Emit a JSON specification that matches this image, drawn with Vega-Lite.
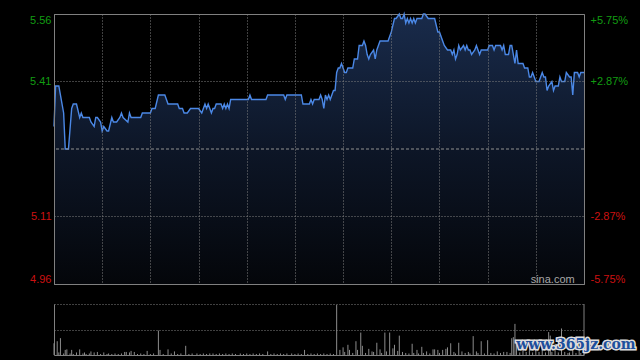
{
  "$schema": "https://vega.github.io/schema/vega-lite/v6.json",
  "background": "#000000",
  "padding": {"left": 29, "top": 10, "right": 8, "bottom": 5},
  "config": {
    "font": "Liberation Sans",
    "axis": {"labelFont": "Liberation Sans", "labelFontSize": 11},
    "view": {"stroke": null}
  },
  "datasets": {
    "price": [
      {"t":0,"p":5.31},{"t":1,"p":5.40},{"t":3,"p":5.40},{"t":6,"p":5.34},{"t":7,"p":5.26},{"t":9,"p":5.26},
      {"t":11,"p":5.35},{"t":12,"p":5.36},{"t":14,"p":5.36},{"t":16,"p":5.33},{"t":17,"p":5.34},{"t":18,"p":5.33},
      {"t":22,"p":5.33},{"t":23,"p":5.32},{"t":25,"p":5.31},{"t":26,"p":5.33},{"t":27,"p":5.33},{"t":29,"p":5.32},
      {"t":30,"p":5.30},{"t":31,"p":5.31},{"t":33,"p":5.30},{"t":34,"p":5.30},{"t":36,"p":5.33},{"t":37,"p":5.32},
      {"t":39,"p":5.32},{"t":41,"p":5.33},{"t":42,"p":5.34},{"t":43,"p":5.33},{"t":46,"p":5.32},{"t":47,"p":5.34},
      {"t":48,"p":5.33},{"t":54,"p":5.33},{"t":55,"p":5.34},{"t":60,"p":5.34},{"t":61,"p":5.35},{"t":63,"p":5.35},
      {"t":65,"p":5.38},{"t":69,"p":5.38},{"t":71,"p":5.36},{"t":77,"p":5.36},{"t":78,"p":5.35},{"t":80,"p":5.35},
      {"t":81,"p":5.34},{"t":83,"p":5.34},{"t":85,"p":5.35},{"t":90,"p":5.35},{"t":92,"p":5.34},{"t":94,"p":5.36},
      {"t":95,"p":5.35},{"t":96,"p":5.36},{"t":97,"p":5.35},{"t":98,"p":5.34},{"t":99,"p":5.35},{"t":100,"p":5.35},
      {"t":101,"p":5.36},{"t":104,"p":5.36},{"t":105,"p":5.35},{"t":106,"p":5.36},{"t":107,"p":5.35},{"t":108,"p":5.36},
      {"t":109,"p":5.35},{"t":110,"p":5.37},{"t":121,"p":5.37},{"t":122,"p":5.38},{"t":123,"p":5.37},{"t":132,"p":5.37},
      {"t":133,"p":5.38},{"t":143,"p":5.38},{"t":144,"p":5.37},{"t":145,"p":5.38},{"t":154,"p":5.38},{"t":155,"p":5.36},
      {"t":159,"p":5.36},{"t":160,"p":5.37},{"t":161,"p":5.36},{"t":162,"p":5.37},{"t":165,"p":5.37},{"t":166,"p":5.38},
      {"t":167,"p":5.37},{"t":168,"p":5.35},{"t":169,"p":5.38},{"t":170,"p":5.37},{"t":171,"p":5.38},{"t":172,"p":5.37},
      {"t":173,"p":5.38},{"t":174,"p":5.39},{"t":175,"p":5.39},{"t":176,"p":5.43},{"t":177,"p":5.44},{"t":178,"p":5.44},
      {"t":179,"p":5.45},{"t":180,"p":5.44},{"t":181,"p":5.43},{"t":182,"p":5.43},{"t":183,"p":5.44},{"t":186,"p":5.44},
      {"t":187,"p":5.46},{"t":189,"p":5.46},{"t":190,"p":5.49},{"t":192,"p":5.49},{"t":193,"p":5.50},{"t":194,"p":5.49},
      {"t":195,"p":5.47},{"t":196,"p":5.46},{"t":197,"p":5.47},{"t":199,"p":5.48},{"t":200,"p":5.46},{"t":201,"p":5.48},
      {"t":203,"p":5.50},{"t":208,"p":5.50},{"t":209,"p":5.51},{"t":210,"p":5.52},{"t":212,"p":5.55},{"t":213,"p":5.55},
      {"t":215,"p":5.56},{"t":216,"p":5.55},{"t":217,"p":5.55},{"t":218,"p":5.56},{"t":219,"p":5.54},{"t":220,"p":5.55},
      {"t":221,"p":5.54},{"t":222,"p":5.55},{"t":223,"p":5.54},{"t":224,"p":5.55},{"t":225,"p":5.54},{"t":226,"p":5.55},
      {"t":229,"p":5.55},{"t":230,"p":5.56},{"t":231,"p":5.56},{"t":233,"p":5.55},{"t":237,"p":5.55},{"t":239,"p":5.52},
      {"t":240,"p":5.52},{"t":242,"p":5.50},{"t":243,"p":5.49},{"t":245,"p":5.48},{"t":247,"p":5.48},{"t":248,"p":5.47},
      {"t":249,"p":5.48},{"t":250,"p":5.46},{"t":251,"p":5.47},{"t":252,"p":5.49},{"t":253,"p":5.48},{"t":255,"p":5.49},
      {"t":256,"p":5.48},{"t":257,"p":5.49},{"t":258,"p":5.48},{"t":259,"p":5.48},{"t":260,"p":5.47},{"t":262,"p":5.48},
      {"t":263,"p":5.49},{"t":264,"p":5.48},{"t":265,"p":5.47},{"t":266,"p":5.48},{"t":270,"p":5.48},{"t":271,"p":5.49},
      {"t":273,"p":5.49},{"t":274,"p":5.48},{"t":275,"p":5.49},{"t":278,"p":5.49},{"t":279,"p":5.48},{"t":280,"p":5.49},
      {"t":281,"p":5.47},{"t":283,"p":5.47},{"t":284,"p":5.49},{"t":285,"p":5.49},{"t":287,"p":5.45},{"t":288,"p":5.48},
      {"t":289,"p":5.45},{"t":292,"p":5.45},{"t":293,"p":5.44},{"t":295,"p":5.44},{"t":296,"p":5.42},{"t":297,"p":5.42},
      {"t":298,"p":5.43},{"t":299,"p":5.42},{"t":300,"p":5.41},{"t":302,"p":5.41},{"t":303,"p":5.42},{"t":304,"p":5.43},
      {"t":305,"p":5.42},{"t":306,"p":5.42},{"t":307,"p":5.39},{"t":308,"p":5.40},{"t":310,"p":5.41},{"t":311,"p":5.39},
      {"t":312,"p":5.40},{"t":314,"p":5.40},{"t":315,"p":5.42},{"t":316,"p":5.41},{"t":318,"p":5.41},{"t":319,"p":5.43},
      {"t":321,"p":5.42},{"t":322,"p":5.42},{"t":323,"p":5.38},{"t":324,"p":5.43},{"t":326,"p":5.43},{"t":327,"p":5.42},
      {"t":328,"p":5.43},{"t":330,"p":5.43}
    ],
    "vol": [
      {"t":0,"v":23},{"t":2,"v":27},{"t":3,"v":5},{"t":4,"v":33},{"t":6,"v":3},{"t":7,"v":10},{"t":8,"v":11},{"t":10,"v":3},
      {"t":11,"v":10},{"t":12,"v":2},{"t":14,"v":5},{"t":16,"v":11},{"t":18,"v":3},{"t":19,"v":5},{"t":20,"v":2},{"t":22,"v":3},
      {"t":23,"v":7},{"t":25,"v":5},{"t":27,"v":6},{"t":29,"v":2},{"t":31,"v":5},{"t":33,"v":2},{"t":34,"v":3},{"t":36,"v":2},
      {"t":38,"v":3},{"t":40,"v":2},{"t":42,"v":3},{"t":44,"v":6},{"t":45,"v":6},{"t":47,"v":5},{"t":48,"v":8},{"t":50,"v":6},
      {"t":52,"v":2},{"t":54,"v":3},{"t":56,"v":2},{"t":58,"v":8},{"t":60,"v":2},{"t":62,"v":3},{"t":65,"v":48},{"t":66,"v":10},
      {"t":68,"v":2},{"t":71,"v":11},{"t":73,"v":3},{"t":75,"v":7},{"t":77,"v":2},{"t":79,"v":3},{"t":82,"v":18},{"t":84,"v":2},
      {"t":86,"v":3},{"t":89,"v":3},{"t":91,"v":2},{"t":93,"v":3},{"t":95,"v":2},{"t":97,"v":3},{"t":99,"v":3},{"t":101,"v":2},
      {"t":103,"v":3},{"t":105,"v":2},{"t":107,"v":3},{"t":109,"v":2},{"t":111,"v":3},{"t":113,"v":2},{"t":116,"v":3},{"t":118,"v":2},
      {"t":120,"v":3},{"t":122,"v":2},{"t":124,"v":3},{"t":126,"v":2},{"t":128,"v":3},{"t":130,"v":2},{"t":133,"v":7},{"t":135,"v":2},
      {"t":137,"v":3},{"t":139,"v":2},{"t":141,"v":3},{"t":143,"v":2},{"t":145,"v":3},{"t":148,"v":3},{"t":150,"v":2},{"t":152,"v":3},
      {"t":154,"v":2},{"t":156,"v":10},{"t":158,"v":2},{"t":160,"v":3},{"t":162,"v":2},{"t":164,"v":3},{"t":166,"v":2},{"t":168,"v":3},
      {"t":170,"v":2},{"t":172,"v":3},{"t":174,"v":2},{"t":176,"v":98},{"t":178,"v":10},{"t":180,"v":15},{"t":181,"v":6},{"t":183,"v":20},
      {"t":184,"v":10},{"t":186,"v":4},{"t":188,"v":27},{"t":189,"v":10},{"t":191,"v":44},{"t":192,"v":18},{"t":194,"v":4},{"t":196,"v":12},
      {"t":198,"v":7},{"t":199,"v":6},{"t":201,"v":24},{"t":203,"v":11},{"t":204,"v":4},{"t":206,"v":44},{"t":207,"v":7},{"t":209,"v":44},
      {"t":211,"v":13},{"t":212,"v":20},{"t":214,"v":8},{"t":215,"v":38},{"t":217,"v":6},{"t":219,"v":4},{"t":221,"v":3},{"t":223,"v":22},
      {"t":224,"v":4},{"t":226,"v":10},{"t":227,"v":3},{"t":229,"v":16},{"t":230,"v":4},{"t":232,"v":7},{"t":234,"v":3},{"t":236,"v":11},
      {"t":237,"v":11},{"t":239,"v":10},{"t":240,"v":4},{"t":242,"v":10},{"t":244,"v":12},{"t":245,"v":15},{"t":247,"v":23},{"t":249,"v":6},
      {"t":250,"v":3},{"t":252,"v":24},{"t":254,"v":7},{"t":256,"v":4},{"t":258,"v":6},{"t":259,"v":3},{"t":261,"v":37},{"t":263,"v":7},
      {"t":264,"v":4},{"t":266,"v":27},{"t":268,"v":3},{"t":270,"v":29},{"t":272,"v":4},{"t":274,"v":3},{"t":276,"v":7},{"t":278,"v":4},
      {"t":280,"v":6},{"t":282,"v":6},{"t":284,"v":4},{"t":285,"v":33},{"t":286,"v":35},{"t":287,"v":61},{"t":288,"v":29},{"t":290,"v":5},
      {"t":292,"v":15},{"t":294,"v":6},{"t":296,"v":20},{"t":298,"v":5},{"t":300,"v":12},{"t":302,"v":6},{"t":304,"v":18},{"t":306,"v":5},
      {"t":308,"v":45},{"t":309,"v":38},{"t":310,"v":6},{"t":312,"v":22},{"t":314,"v":5},{"t":316,"v":52},{"t":318,"v":6},{"t":320,"v":4},
      {"t":321,"v":5},{"t":323,"v":15},{"t":325,"v":4},{"t":327,"v":12},{"t":328,"v":4},{"t":330,"v":3}
    ]
  },
  "spacing": 20,
  "bounds": "flush",
  "vconcat": [
    {
      "width": 530,
      "height": 270,
      "view": {"stroke": "#808080"},
      "layer": [
        {
          "data": {"name": "price"},
          "layer": [
            {
              "mark": {
                "type": "area",
                "interpolate": "linear",
                "color": {
                  "gradient": "linear",
                  "x1": 0, "y1": 0, "x2": 0, "y2": 1,
                  "stops": [
                    {"offset": 0, "color": "#192b4b"},
                    {"offset": 0.5, "color": "#0d1627"},
                    {"offset": 1, "color": "#04060a"}
                  ]
                }
              },
              "encoding": {
                "x": {
                  "field": "t", "type": "quantitative",
                  "scale": {"domain": [0, 330], "nice": false, "zero": false},
                  "axis": {
                    "values": [30, 60, 90, 120, 150, 180, 210, 240, 270, 300],
                    "grid": true, "gridColor": "#808080", "gridDash": [1, 2],
                    "labels": false, "ticks": false, "domain": true, "domainColor": "#808080",
                    "title": null, "zindex": 1
                  }
                },
                "y": {
                  "field": "p", "type": "quantitative",
                  "scale": {"domain": [4.96, 5.56], "nice": false, "zero": false},
                  "axis": {
                    "orient": "left",
                    "values": [4.96, 5.11, 5.41, 5.56],
                    "format": ".2f",
                    "labelColor": {"condition": {"test": "datum.value > 5.26", "value": "#129c12"}, "value": "#cc1111"},
                    "labelFlush": true,
                    "ticks": false, "labelPadding": 3,
                    "domain": true, "domainColor": "#808080",
                    "grid": true, "gridColor": "#808080", "gridDash": [1, 2],
                    "title": null, "zindex": 1
                  }
                },
                "y2": {"datum": 4.96}
              }
            },
            {
              "mark": {"type": "line", "interpolate": "linear", "color": "#4b88e6", "strokeWidth": 1.4},
              "encoding": {
                "x": {"field": "t", "type": "quantitative"},
                "y": {"field": "p", "type": "quantitative"}
              }
            },
            {
              "data": {"values": [{"t": 310.5, "p": 4.963, "label": "sina.com"}]},
              "mark": {"type": "text", "color": "#a8a8a8", "fontSize": 11, "font": "Liberation Sans", "align": "center", "baseline": "alphabetic"},
              "encoding": {
                "x": {"field": "t", "type": "quantitative"},
                "y": {"field": "p", "type": "quantitative"},
                "text": {"field": "label"}
              }
            }
          ]
        },
        {
          "data": {"values": [{"p": 5.26}]},
          "mark": {"type": "rule", "color": "#909090", "strokeDash": [3, 2], "strokeWidth": 1},
          "encoding": {
            "y": {
              "field": "p", "type": "quantitative",
              "scale": {"domain": [4.96, 5.56], "nice": false, "zero": false},
              "axis": {
                "orient": "right",
                "values": [4.96, 5.11, 5.41, 5.56],
                "labelExpr": "datum.value > 5.5 ? '+5.75%' : datum.value > 5.3 ? '+2.87%' : datum.value > 5 ? '-2.87%' : '-5.75%'",
                "labelColor": {"condition": {"test": "datum.value > 5.26", "value": "#129c12"}, "value": "#cc1111"},
                "labelFlush": true,
                "ticks": false, "labelPadding": 6,
                "domain": true, "domainColor": "#808080",
                "grid": false, "title": null, "zindex": 1
              }
            }
          }
        }
      ],
      "resolve": {"scale": {"y": "independent"}}
    },
    {
      "width": 530,
      "height": 51,
      "layer": [
        {
          "data": {"name": "vol"},
          "mark": {"type": "rule", "color": "#8c8c8c", "strokeWidth": 1},
          "encoding": {
            "x": {
              "field": "t", "type": "quantitative",
              "scale": {"domain": [0, 330], "nice": false, "zero": false},
              "axis": {"grid": false, "labels": false, "ticks": false, "domain": true, "domainColor": "#808080", "title": null}
            },
            "y": {
              "field": "v", "type": "quantitative",
              "scale": {"domain": [0, 100], "nice": false},
              "axis": {
                "values": [50, 100], "grid": true, "gridColor": "#808080", "gridDash": [1, 2],
                "labels": false, "ticks": false, "domain": true, "domainColor": "#808080", "title": null
              }
            },
            "y2": {"datum": 0}
          }
        },
        {
          "data": {"values": [{"t": 330}]},
          "mark": {"type": "rule", "color": "#808080"},
          "encoding": {"x": {"field": "t", "type": "quantitative"}}
        },
        {
          "data": {"values": [{"t": 325, "v": 12, "w": "www.365jz.com"}]},
          "mark": {"type": "text", "font": "DejaVu Serif", "fontWeight": "bold", "fontSize": 14, "color": "#dddddd", "stroke": "#dddddd", "strokeWidth": 3, "align": "center", "baseline": "alphabetic"},
          "encoding": {
            "x": {"field": "t", "type": "quantitative"},
            "y": {"field": "v", "type": "quantitative"},
            "text": {"field": "w"}
          }
        },
        {
          "data": {"values": [{"t": 325, "v": 12, "w": "www.365jz.com"}]},
          "mark": {"type": "text", "font": "DejaVu Serif", "fontWeight": "bold", "fontSize": 14, "color": "#1d4f9c", "align": "center", "baseline": "alphabetic"},
          "encoding": {
            "x": {"field": "t", "type": "quantitative"},
            "y": {"field": "v", "type": "quantitative"},
            "text": {"field": "w"}
          }
        }
      ]
    }
  ]
}
